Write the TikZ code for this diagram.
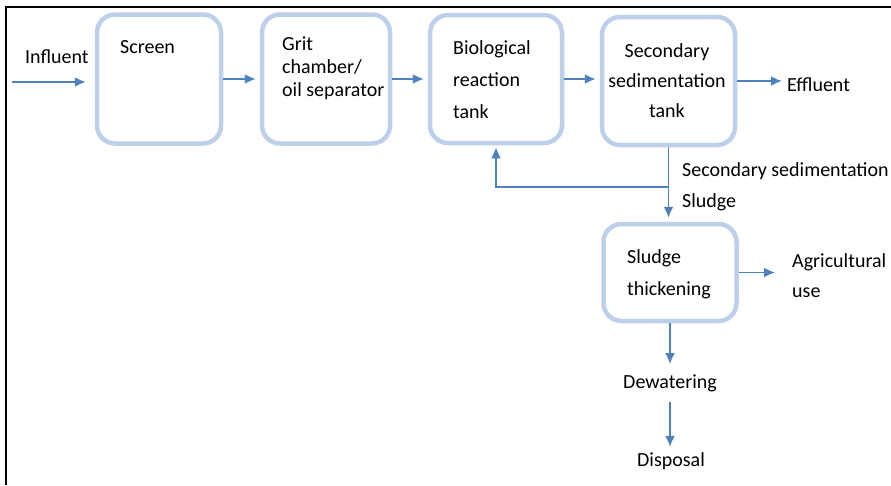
\documentclass[tikz,border=0pt]{standalone}
\usepackage{fontspec}
\setmainfont{Carlito}
\usetikzlibrary{positioning,arrows.meta}
\definecolor{tankblue}{RGB}{189,208,233}
\definecolor{flowblue}{RGB}{79,129,189}
\tikzset{tank/.style={rectangle,draw=tankblue,line width=4.5pt,rounded corners=18pt},
	 flow/.style={draw=flowblue,line width=1.8pt,-{Latex[length=11pt,width=10pt]},shorten >=4pt},
	 txt/.style={inner sep=0pt,font=\fontsize{20}{31}\selectfont,align=left},
	 node distance = 40pt
	 }

\begin{document}
\begin{tikzpicture}[x=1pt,y=-1pt]
      \useasboundingbox (0,0) rectangle (891,485);
      \draw[line width=2pt] (6,485) -- (6,7) -- (891,7);
      % process tanks
      \node[tank,minimum width=124pt,minimum height=129pt] (screen) at (159,79) {};
      \node[tank,minimum width=128pt,minimum height=129pt] (grit) at (326,79) {};
      \node[tank,minimum width=132pt,minimum height=128pt] (bio) at (496,79) {};
      \node[tank,minimum width=133pt,minimum height=128pt] (sec) at (668.5,81) {};
      \node[tank,minimum width=133pt,minimum height=97pt] (thick) at (670,272.5) {};
      % texts (base = last line)
      \node[txt,anchor=base west] (influent) at (25,63) {Influent};
      \node[txt,anchor=base west] (screentxt) at (120,53) {Screen};
      \node[txt,anchor=base west,font=\fontsize{20}{23}\selectfont] (grittxt) at (282,96) {Grit\\chamber/\\oil separator};
      \node[txt,anchor=base west,font=\fontsize{20}{32}\selectfont] (biotxt) at (453,118) {Biological\\reaction\\tank};
      \node[txt,anchor=base,align=center,font=\fontsize{20}{30}\selectfont] (sectxt) at (667,117) {Secondary\\sedimentation\\tank};
      \node[txt,anchor=base west] (effluent) at (787,91) {Effluent};
      \node[txt,anchor=base west] (sludgelbl) at (682,207) {Secondary sedimentation\\Sludge};
      \node[txt,anchor=base west,font=\fontsize{20}{32}\selectfont] (thicktxt) at (627,295) {Sludge\\thickening};
      \node[txt,anchor=base west,font=\fontsize{20}{30}\selectfont] (agri) at (792,297) {Agricultural\\use};
      \node[txt,anchor=base] (dewater) at (670,388) {Dewatering};
      \node[txt,anchor=base] (disposal) at (671,466) {Disposal};
      % flows
      \coordinate (inlet) at (12,82);
      \coordinate[below=of sec.south] (split);
      \draw[flow,shorten >=9pt] (inlet) -- (inlet -| screen.west);
      \draw[flow] (screen.east) -- (grit.west);
      \draw[flow] (grit.east) -- (bio.west);
      \draw[flow] (bio.east) -- (bio.east -| sec.west);
      \draw[flow,shorten >=5pt] (sec.east) -- (sec.east -| effluent.west);
      \draw[flow,shorten >=2pt] (sec.south) -- (split) -| (bio.south);
      \draw[flow] (split) -- (split |- thick.north);
      \draw[flow,shorten >=17pt] (thick.east) -- (thick.east -| agri.west);
      \draw[flow,shorten >=10pt] (thick.south) -- (thick.south |- dewater.north);
      \draw[flow,shorten <=10pt,shorten >=5pt] (dewater.south) -- (dewater.south |- disposal.north);
  \end{tikzpicture}
\end{document}
